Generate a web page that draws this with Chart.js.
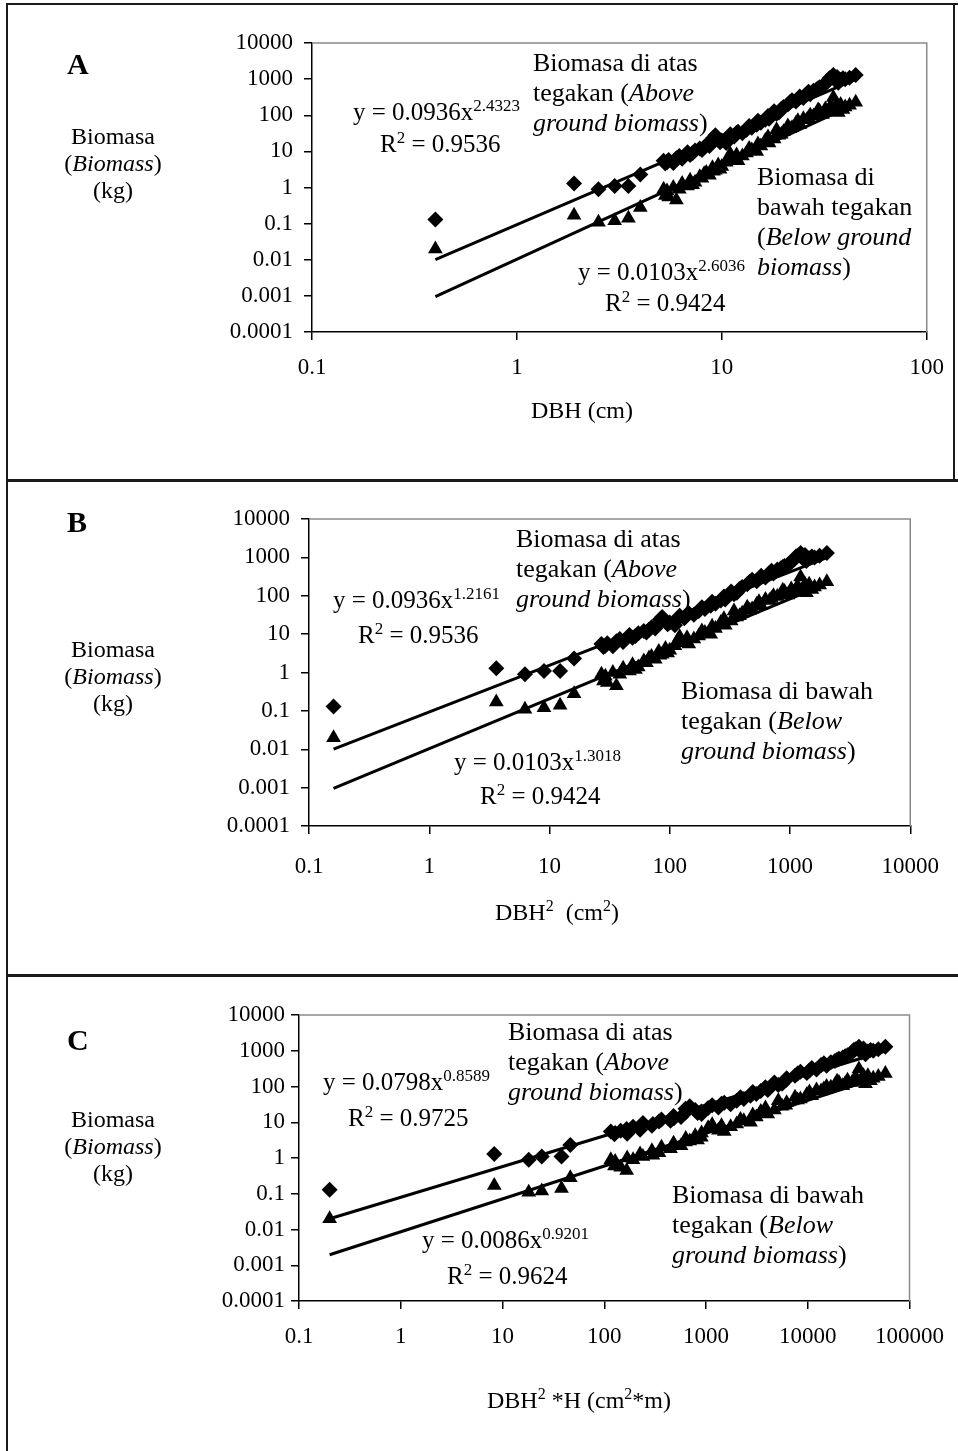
<!DOCTYPE html>
<html lang="id">
<head>
<meta charset="UTF-8">
<title>Biomasa vs DBH</title>
<script src="https://cdn.jsdelivr.net/npm/chart.js@4"></script>
<style>
  body { margin: 0; background: #fff; }
  #page { position: relative; width: 958px; height: 1451px; overflow: hidden;
          font-family: 'Liberation Serif', 'Times New Roman', serif; color: #000; }
  canvas { position: absolute; left: 0; }
  .rule { position: absolute; background: #1a1a1a; z-index: 3; }
  .txt { position: absolute; font-size: 25px; line-height: 30px; white-space: nowrap; }
  .txt.big { font-size: 26px; }
  .txt sup { font-size: 17px; line-height: 0; vertical-align: 9px; }
  .ylab { position: absolute; width: 140px; left: 43px; text-align: center; font-size: 24px; line-height: 27px; }
  .xlab { position: absolute; font-size: 24px; white-space: nowrap; transform: translate(-50%, -50%); }
  .xlab sup { font-size: 16px; line-height: 0; vertical-align: 9px; }
  .letter { position: absolute; font-size: 30px; font-weight: bold; line-height: 30px; }
</style>
</head>
<body>
<div id="page">
  <!-- frames -->
  <div class="rule" style="left:6px;top:3px;width:2px;height:1448px"></div>
  <div class="rule" style="left:6px;top:3px;width:952px;height:2px"></div>
  <div class="rule" style="left:953px;top:3px;width:2px;height:478px"></div>
  <div class="rule" style="left:6px;top:479px;width:952px;height:3px"></div>
  <div class="rule" style="left:6px;top:974px;width:952px;height:3px"></div>

  <canvas id="chartA" width="958" height="478" style="top:0"></canvas>
  <canvas id="chartB" width="958" height="491" style="top:482px"></canvas>
  <canvas id="chartC" width="958" height="474" style="top:977px"></canvas>

  <!-- Panel A -->
  <div class="letter" style="left:67px;top:49px">A</div>
  <div class="ylab" style="top:123px">Biomasa<br>(<i>Biomass</i>)<br>(kg)</div>
  <div class="xlab" style="left:582px;top:410px">DBH (cm)</div>
  <div class="txt big" style="left:533px;top:48px">Biomasa di atas<br>tegakan (<i>Above</i><br><i>ground biomass</i>)</div>
  <div class="txt" style="left:353px;top:97px">y = 0.0936x<sup>2.4323</sup></div>
  <div class="txt" style="left:380px;top:129px">R<sup>2</sup> = 0.9536</div>
  <div class="txt big" style="left:757px;top:162px">Biomasa di<br>bawah tegakan<br>(<i>Below ground</i><br><i>biomass</i>)</div>
  <div class="txt" style="left:578px;top:257px">y = 0.0103x<sup>2.6036</sup></div>
  <div class="txt" style="left:605px;top:288px">R<sup>2</sup> = 0.9424</div>

  <!-- Panel B -->
  <div class="letter" style="left:67px;top:507px">B</div>
  <div class="ylab" style="top:636px">Biomasa<br>(<i>Biomass</i>)<br>(kg)</div>
  <div class="xlab" style="left:557px;top:912px">DBH<sup>2</sup> &nbsp;(cm<sup>2</sup>)</div>
  <div class="txt big" style="left:516px;top:524px">Biomasa di atas<br>tegakan (<i>Above</i><br><i>ground biomass</i>)</div>
  <div class="txt" style="left:333px;top:585px">y = 0.0936x<sup>1.2161</sup></div>
  <div class="txt" style="left:358px;top:620px">R<sup>2</sup> = 0.9536</div>
  <div class="txt big" style="left:681px;top:676px">Biomasa di bawah<br>tegakan (<i>Below</i><br><i>ground biomass</i>)</div>
  <div class="txt" style="left:454px;top:747px">y = 0.0103x<sup>1.3018</sup></div>
  <div class="txt" style="left:480px;top:781px">R<sup>2</sup> = 0.9424</div>

  <!-- Panel C -->
  <div class="letter" style="left:67px;top:1025px">C</div>
  <div class="ylab" style="top:1106px">Biomasa<br>(<i>Biomass</i>)<br>(kg)</div>
  <div class="xlab" style="left:579px;top:1400px">DBH<sup>2</sup> *H (cm<sup>2</sup>*m)</div>
  <div class="txt big" style="left:508px;top:1017px">Biomasa di atas<br>tegakan (<i>Above</i><br><i>ground biomass</i>)</div>
  <div class="txt" style="left:323px;top:1067px">y = 0.0798x<sup>0.8589</sup></div>
  <div class="txt" style="left:348px;top:1103px">R<sup>2</sup> = 0.9725</div>
  <div class="txt big" style="left:672px;top:1180px">Biomasa di bawah<br>tegakan (<i>Below</i><br><i>ground biomass</i>)</div>
  <div class="txt" style="left:422px;top:1225px">y = 0.0086x<sup>0.9201</sup></div>
  <div class="txt" style="left:447px;top:1261px">R<sup>2</sup> = 0.9624</div>
</div>

<script>
  // tree measurements (same trees in all three panels)
  const dbh = [0.4, 1.9, 2.5, 3.0, 3.5, 4.0, 5.2, 5.3, 5.5, 5.8, 6.0, 6.4, 6.8, 7.0, 7.4, 7.8, 8.0, 8.4, 8.7, 9.0,
    9.3, 9.6, 10.0, 10.5, 11.0, 11.5, 12.0, 12.6, 13.2, 14.0, 14.8, 15.5, 16.3, 17.0, 18.0, 18.5, 19.5, 20.0, 21.0, 22.0,
    23.0, 24.0, 25.0, 26.0, 27.0, 28.0, 29.0, 30.0, 31.0, 32.0, 33.0, 34.0, 35.0, 36.0, 37.0, 38.0, 40.0, 42.0, 45.0,
    5.4, 6.2, 7.2, 8.2, 9.1, 9.8, 10.8, 11.8, 13.6, 15.0, 16.8, 19.0, 21.5, 23.5, 26.5, 29.5, 31.5, 33.5, 36.5, 39.0];
  const dbhSq = [0.16, 3.61, 6.25, 9, 12.25, 16, 27.04, 28.09, 30.25, 33.64, 36, 40.96, 46.24, 49, 54.76, 60.84, 64, 70.56, 75.69, 81,
    86.49, 92.16, 100, 110.25, 121, 132.25, 144, 158.76, 174.24, 196, 219.04, 240.25, 265.69, 289, 324, 342.25, 380.25, 400, 441, 484,
    529, 576, 625, 676, 729, 784, 841, 900, 961, 1024, 1089, 1156, 1225, 1296, 1369, 1444, 1600, 1764, 2025,
    29.16, 38.44, 51.84, 67.24, 82.81, 96.04, 116.64, 139.24, 184.96, 225, 282.24, 361, 462.25, 552.25, 702.25, 870.25, 992.25, 1122.25, 1332.25, 1521];
  const dbhSqH = [0.2, 8.3, 18.1, 24.3, 38, 46.4, 116, 126, 145, 168, 166, 225, 240, 294, 345, 365, 448, 480, 568, 632,
    692, 783, 900, 904, 1150, 1323, 1512, 1746, 2004, 2352, 2738, 3123, 3454, 4046, 4698, 5134, 6084, 6200, 7497, 8470,
    9787, 10944, 12188, 13520, 15309, 16856, 18502, 20250, 22103, 24576, 27225, 29478, 31850, 33696, 36963, 38988, 44000, 49392, 57915,
    128, 192, 301, 484, 629, 826, 1050, 1420, 2183, 2880, 3839, 5596, 7951, 10382, 14396, 19407, 23318, 28281, 35305, 41371];
  const aboveKg = [0.13, 1.3, 0.9, 1.1, 1.1, 2.3, 5.5, 4.6, 5.8, 4.8, 6.5, 6.2, 9.5, 8.0, 10.5, 12, 11, 15, 14, 19,
    28, 22, 20, 17, 30, 26, 35, 32, 40, 45, 55, 62, 75, 80, 130, 110, 150, 170, 200, 260,
    240, 330, 300, 400, 380, 480, 520, 600, 650, 750, 900, 1100, 1300, 900, 800, 950, 1000, 1100, 1300,
    5.0, 7.5, 9.0, 13, 24, 18, 25, 33, 50, 70, 95, 120, 230, 280, 450, 560, 700, 1050, 1150, 1050];
  const belowKg = [0.02, 0.17, 0.11, 0.12, 0.14, 0.28, 0.9, 0.6, 0.55, 1.0, 0.45, 1.3, 1.1, 1.6, 1.4, 2.0, 1.8, 2.6, 2.2, 3.5,
    3.0, 4.2, 3.8, 5.0, 8.5, 6.0, 5.5, 7.5, 9.0, 11, 10, 14, 20, 17, 22, 40, 30, 35, 50, 45,
    60, 55, 80, 75, 100, 95, 110, 130, 105, 150, 130, 180, 310, 160, 120, 200, 170, 190, 230,
    0.8, 0.9, 1.2, 2.4, 2.8, 3.2, 7.0, 8.0, 12, 16, 25, 28, 42, 70, 85, 140, 120, 140, 200, 145];

  // fitted power-law lines, end points
  const trendAboveA = [{ x: 0.4, y: 0.0101 }, { x: 45, y: 983 }];
  const trendBelowA = [{ x: 0.4, y: 0.00095 }, { x: 45, y: 207 }];
  const trendAboveB = [{ x: 0.16, y: 0.0101 }, { x: 2025, y: 983 }];
  const trendBelowB = [{ x: 0.16, y: 0.00095 }, { x: 2025, y: 208 }];
  const trendAboveC = [{ x: 0.2, y: 0.020 }, { x: 57915, y: 983 }];
  const trendBelowC = [{ x: 0.2, y: 0.00196 }, { x: 57915, y: 207 }];

  // tick labels
  const yTicks = [0.0001, 0.001, 0.01, 0.1, 1, 10, 100, 1000, 10000];
  const yTickLabels = ['0.0001', '0.001', '0.01', '0.1', '1', '10', '100', '1000', '10000'];
  const xTicksA = [0.1, 1, 10, 100];
  const xTickLabelsA = ['0.1', '1', '10', '100'];
  const xTicksB = [0.1, 1, 10, 100, 1000, 10000];
  const xTickLabelsB = ['0.1', '1', '10', '100', '1000', '10000'];
  const xTicksC = [0.1, 1, 10, 100, 1000, 10000, 100000];
  const xTickLabelsC = ['0.1', '1', '10', '100', '1000', '10000', '100000'];

  const tickFont = { family: "'Liberation Serif', 'Times New Roman', serif", size: 23 };

  // grey top/right edge of the plot area
  const plotFrame = {
    id: 'plotFrame',
    beforeDatasetsDraw(chart) {
      const a = chart.chartArea, c = chart.ctx;
      c.save();
      c.strokeStyle = '#8a8a8a';
      c.lineWidth = 1.5;
      c.beginPath();
      c.moveTo(a.left, a.top);
      c.lineTo(a.right, a.top);
      c.lineTo(a.right, a.bottom);
      c.stroke();
      c.restore();
    }
  };

  function makeChart(id, xs, xTicks, xLabels, trendAbove, trendBelow, pad, yPad, xPad) {
    new Chart(document.getElementById(id), {
      type: 'scatter',
      data: {
        datasets: [
          {
            data: xs.map((x, i) => ({ x: x, y: aboveKg[i] })),
            pointStyle: 'rectRot', pointRadius: 8,
            backgroundColor: '#000', borderColor: '#000', borderWidth: 0
          },
          {
            data: xs.map((x, i) => ({ x: x, y: belowKg[i] })),
            pointStyle: 'triangle', pointRadius: 8.5,
            backgroundColor: '#000', borderColor: '#000', borderWidth: 0
          },
          { data: trendAbove, showLine: true, pointRadius: 0, borderColor: '#000', borderWidth: 3 },
          { data: trendBelow, showLine: true, pointRadius: 0, borderColor: '#000', borderWidth: 3 }
        ]
      },
      options: {
        responsive: false,
        animation: false,
        layout: { padding: pad },
        plugins: { legend: { display: false }, tooltip: { enabled: false } },
        scales: {
          x: {
            type: 'logarithmic',
            min: xTicks[0], max: xTicks[xTicks.length - 1],
            afterBuildTicks: s => { s.ticks = xTicks.map(v => ({ value: v })); },
            afterFit: s => { s.height = 60; },
            ticks: { callback: (v, i) => xLabels[i], font: tickFont, color: '#000', padding: xPad, autoSkip: false, maxRotation: 0 },
            grid: { drawOnChartArea: false, drawTicks: true, tickLength: 8, color: '#000', lineWidth: 1.5 },
            border: { color: '#000', width: 1.5 }
          },
          y: {
            type: 'logarithmic',
            min: 0.0001, max: 10000,
            afterBuildTicks: s => { s.ticks = yTicks.map(v => ({ value: v })); },
            afterFit: s => { s.width = 90; },
            ticks: { callback: (v, i) => yTickLabels[i], font: tickFont, color: '#000', padding: yPad, autoSkip: false },
            grid: { drawOnChartArea: false, drawTicks: true, tickLength: 8, color: '#000', lineWidth: 1.5 },
            border: { color: '#000', width: 1.5 }
          }
        }
      },
      plugins: [plotFrame]
    });
  }

  makeChart('chartA', dbh, xTicksA, xTickLabelsA, trendAboveA, trendBelowA,
    { top: 43, left: 222, right: 28, bottom: 86 }, 11, 14);
  makeChart('chartB', dbhSq, xTicksB, xTickLabelsB, trendAboveB, trendBelowB,
    { top: 37, left: 219, right: 38, bottom: 87 }, 11, 19);
  makeChart('chartC', dbhSqH, xTicksC, xTickLabelsC, trendAboveC, trendBelowC,
    { top: 38, left: 209, right: 45, bottom: 90 }, 6, 14);
</script>
</body>
</html>
